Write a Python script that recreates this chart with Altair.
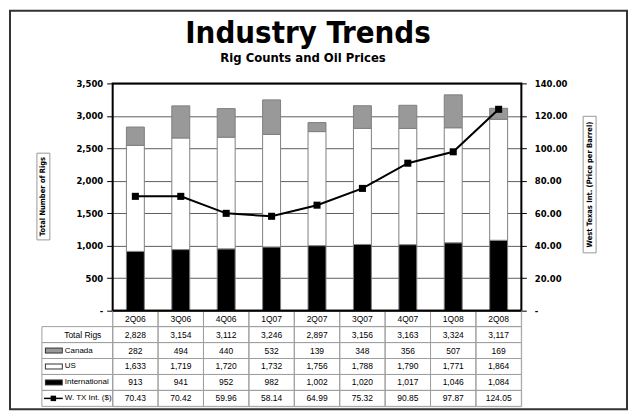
import json
import altair as alt
import pandas as pd

# ---------------- data ----------------
quarters = ["2Q06", "3Q06", "4Q06", "1Q07", "2Q07", "3Q07", "4Q07", "1Q08", "2Q08"]
total_rigs = [2828, 3154, 3112, 3246, 2897, 3156, 3163, 3324, 3117]
canada = [282, 494, 440, 532, 139, 348, 356, 507, 169]
us = [1633, 1719, 1720, 1732, 1756, 1788, 1790, 1771, 1864]
international = [913, 941, 952, 982, 1002, 1020, 1017, 1046, 1084]
wti = [70.43, 70.42, 59.96, 58.14, 64.99, 75.32, 90.85, 97.87, 124.05]

chart_title = "Industry Trends"
chart_subtitle = "Rig Counts and Oil Prices"
left_title = "Total Number of Rigs"
right_title = "West Texas Int. (Price per Barrel)"
row_names = ["Total Rigs", "Canada", "US", "International", "W. TX Int. ($)"]
series_names = ["International", "US", "Canada"]
series_colors = ["#000000", "#ffffff", "#999999"]
left_ticks = [0, 500, 1000, 1500, 2000, 2500, 3000, 3500]
right_ticks = [0, 20, 40, 60, 80, 100, 120, 140]

# ---------------- layout constants ----------------
W, H = 410, 228
ROW_H = 16
TABLE_ROWS = ["hdr"] + row_names
TH = ROW_H * len(TABLE_ROWS)
GRID = "#a0a0a0"
TFONT = "Liberation Sans"

one = pd.DataFrame({"k": [0]})

bars_df = pd.DataFrame({
    "quarter": quarters * 3,
    "series": [s for s in series_names for _ in quarters],
    "rigs": international + us + canada,
})
price_df = pd.DataFrame({"quarter": quarters, "wti": wti})

x_enc = alt.X("quarter:N", sort=quarters,
              scale=alt.Scale(domain=quarters, paddingInner=0, paddingOuter=0),
              axis=None)

lab = dict(labelFont="DejaVu Sans", labelFontWeight="bold", labelFontSize=8.5,
           labelColor="#000")

bars = alt.Chart(bars_df).transform_calculate(
    stack_idx=f"indexof({json.dumps(series_names)}, datum.series)"
).mark_bar(size=18, stroke="#808080", strokeWidth=1).encode(
    x=x_enc,
    y=alt.Y("rigs:Q", stack="zero",
            scale=alt.Scale(domain=[0, 3500], nice=False),
            axis=alt.Axis(orient="left", values=left_ticks, title=None,
                          labelExpr="datum.value == 0 ? '-' : format(datum.value, ',')",
                          grid=True, gridColor="#5e5e5e", gridWidth=1, domain=False,
                          ticks=True, tickColor="#000", tickSize=6, labelPadding=4,
                          **lab)),
    color=alt.Color("series:N", scale=alt.Scale(domain=series_names, range=series_colors),
                    legend=None),
    order=alt.Order("stack_idx:Q"),
)

price = alt.Chart(price_df).mark_line(
    color="#000", strokeWidth=2,
    point=alt.OverlayMarkDef(shape="square", size=50, filled=True, color="#000", opacity=1),
).encode(
    x=x_enc,
    y=alt.Y("wti:Q", scale=alt.Scale(domain=[0, 140], nice=False),
            axis=alt.Axis(orient="right", values=right_ticks, title=None,
                          labelExpr="datum.value == 0 ? '-' : format(datum.value, '.2f')",
                          grid=False, domain=False, ticks=True, tickColor="#000",
                          tickSize=5, labelPadding=8, **lab)),
)


def txt(text, x, y, **kw):
    return alt.Chart(pd.DataFrame({"t": [text]})).mark_text(**kw).encode(
        text="t:N", x=alt.value(x), y=alt.value(y))


def box(x, x2, y, y2, **kw):
    return alt.Chart(one).mark_rect(fill="transparent", **kw).encode(
        x=alt.value(x), x2=alt.value(x2), y=alt.value(y), y2=alt.value(y2))


outer = box(-103, 516, -73, 327, stroke="#333333", strokeWidth=2)
title = txt(chart_title, 196, -41, font="DejaVu Sans Condensed", fontWeight="bold",
            fontSize=31, baseline="alphabetic", align="center", color="#000")
subtitle = txt(chart_subtitle, 191, -25, font="DejaVu Sans Condensed", fontWeight="bold",
               fontSize=13, baseline="middle", align="center", color="#000")
lbox = box(-76, -63, 70, 157, stroke="#999999", strokeWidth=1)
ltitle = txt(left_title, -69.5, 113.5, font="DejaVu Sans Condensed", fontWeight="bold",
             fontSize=7.5, angle=270, baseline="middle", align="center", color="#000")
rbox = box(472, 485, 33, 170, stroke="#999999", strokeWidth=1)
rtitle = txt(right_title, 478.5, 101.5, font="DejaVu Sans Condensed", fontWeight="bold",
             fontSize=7.5, angle=270, baseline="middle", align="center", color="#000")
plot_border = box(0, W, 0, H, stroke="#000", strokeWidth=2)

top = alt.layer(outer, title, subtitle, lbox, ltitle, rbox, rtitle, bars, price,
                plot_border).resolve_scale(y="independent").properties(width=W, height=H)

# ---------------- data table ----------------
tbl = []
for r, vals in zip(row_names, [total_rigs, canada, us, international, wti]):
    for q, v in zip(quarters, vals):
        tbl.append({"quarter": q, "row": r, "value": v})
table_df = pd.DataFrame(tbl)
cells_df = pd.DataFrame([{"quarter": q, "row": r} for r in TABLE_ROWS for q in quarters])
hdr_df = pd.DataFrame({"quarter": quarters, "row": ["hdr"] * len(quarters)})
labels_df = pd.DataFrame({"row": row_names})

y_tbl = alt.Y("row:N", sort=TABLE_ROWS,
              scale=alt.Scale(domain=TABLE_ROWS, paddingInner=0, paddingOuter=0),
              axis=None)

cells = alt.Chart(cells_df).mark_rect(fill="transparent", stroke=GRID, strokeWidth=1).encode(
    x=x_enc, y=y_tbl)
vals_txt = alt.Chart(table_df).transform_calculate(
    lbl=f"datum.row == {json.dumps(row_names[-1])} ? format(datum.value, '.2f') : format(datum.value, ',')"
).mark_text(font=TFONT, fontSize=8.5, color="#000").encode(x=x_enc, y=y_tbl, text="lbl:N")
hdr_txt = alt.Chart(hdr_df).mark_text(font=TFONT, fontSize=8.5, color="#000").encode(
    x=x_enc, y=y_tbl, text="quarter:N")
label_cells = alt.Chart(labels_df).mark_rect(fill="transparent", stroke=GRID, strokeWidth=1).encode(
    x=alt.value(-71), x2=alt.value(0), y=y_tbl)
total_lbl = alt.Chart(labels_df).transform_filter(
    alt.datum.row == row_names[0]
).mark_text(font=TFONT, fontSize=8.5, color="#000", align="center").encode(
    x=alt.value(-30), y=y_tbl, text="row:N")
other_lbl = alt.Chart(labels_df).transform_filter(
    alt.datum.row != row_names[0]
).mark_text(font=TFONT, fontSize=8, color="#000", align="left").encode(
    x=alt.value(-48), y=y_tbl, text="row:N")

sw_df = pd.DataFrame({"row": series_names})
sw_out = alt.Chart(sw_df).mark_rule(strokeWidth=6, color="#333333", strokeCap="butt").encode(
    x=alt.value(-68), x2=alt.value(-50), y=y_tbl)
sw_in = alt.Chart(sw_df).mark_rule(strokeWidth=4, strokeCap="butt").encode(
    x=alt.value(-67), x2=alt.value(-51), y=y_tbl,
    color=alt.Color("row:N", scale=alt.Scale(domain=series_names, range=series_colors),
                    legend=None))
wti_df = pd.DataFrame({"row": [row_names[-1]]})
wti_line = alt.Chart(wti_df).mark_rule(strokeWidth=1.5, color="#000").encode(
    x=alt.value(-69), x2=alt.value(-50), y=y_tbl)
wti_pt = alt.Chart(wti_df).mark_point(shape="square", size=30, filled=True, color="#000",
                                      opacity=1).encode(x=alt.value(-59.5), y=y_tbl)
top_line = alt.Chart(one).mark_rule(strokeWidth=2, color="#000").encode(
    x=alt.value(0), x2=alt.value(W), y=alt.value(0))

table = alt.layer(cells, label_cells, vals_txt, hdr_txt, total_lbl, other_lbl,
                  sw_out, sw_in, wti_line, wti_pt, top_line).properties(width=W, height=TH)

chart = alt.vconcat(top, table, spacing=0, bounds="flush", padding=0).configure_view(
    stroke=None).configure(background="#ffffff")

chart.save("out.html", embed_options={"renderer": "svg", "actions": False})
